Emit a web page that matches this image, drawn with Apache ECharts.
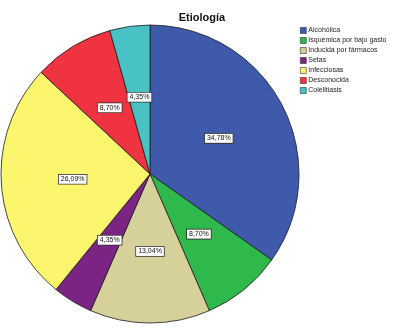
<!DOCTYPE html>
<html>
<head>
<meta charset="utf-8">
<script src="https://cdn.jsdelivr.net/npm/echarts@6/dist/echarts.min.js"></script>
<style>
html,body{margin:0;padding:0;background:#fff;}
#main{width:394px;height:333px;}
</style>
</head>
<body>
<div id="main"></div>
<script>
var categories = ['Alcohólica','Isquémica por bajo gasto','Inducida por fármacos','Setas','Infecciosas','Desconocida','Colelitiasis'];
var counts = [8,2,3,1,6,2,1];
var colors = ['#3f5aab','#2fb84c','#d6d09b','#7b2483','#fcf66f','#ef3340','#49c2c5'];

var total = 0;
counts.forEach(function(v){ total += v; });

var myChart = echarts.init(document.getElementById('main'));
var data = [];
for(var i=0;i<categories.length;i++){
	data.push({name:categories[i],value:counts[i],itemStyle:{color:colors[i]}});
}
var option = {
	animation:false,
	title:{
		text:'Etiología',
		left:197,
		top:7,
		textAlign:'center',
		textStyle:{fontFamily:'Liberation Sans',fontSize:11,fontWeight:'bold',color:'#111'}
	},
	legend:{
		orient:'vertical',
		left:295,
		top:22,
		itemWidth:6,
		itemHeight:6,
		itemGap:3,
		icon:'rect',
		itemStyle:{borderColor:'#333',borderWidth:0.6},
		textStyle:{fontFamily:'Liberation Sans',fontSize:7,color:'#222',padding:[0,0,0,-3]},
		data:categories
	},
	series:[{
		type:'pie',
		center:[150,174],
		radius:149,
		startAngle:90,
		clockwise:true,
		data:data,
		itemStyle:{borderColor:'#1c1c1c',borderWidth:0.8},
		label:{
			show:true,
			position:'inside',
			formatter:function(p){return (p.value/total*100).toFixed(2).replace('.',',')+'%';},
			fontFamily:'Liberation Sans',
			fontSize:7,
			color:'#111',
			backgroundColor:'#fff',
			borderColor:'#333',
			borderWidth:0.8,
			padding:[1,2]
		},
		emphasis:{disabled:true}
	}]
};
myChart.setOption(option);
</script>
</body>
</html>
